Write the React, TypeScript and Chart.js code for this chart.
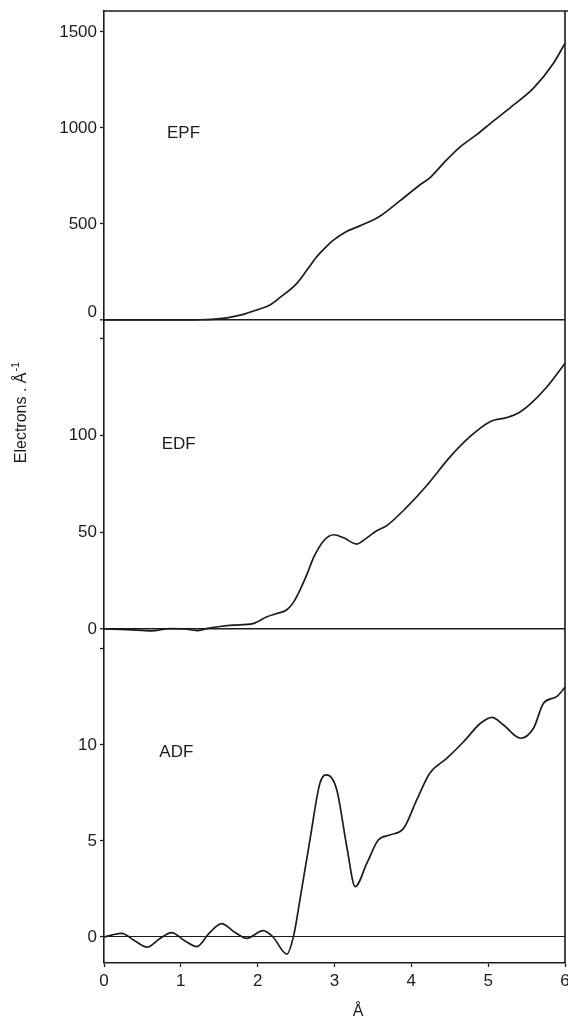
import React, { useEffect, useRef } from 'react';
import { Chart, registerables } from 'chart.js';

Chart.register(...registerables);

// ---- data (x in Å) ----
const xTickValues = [0, 1, 2, 3, 4, 5, 6];

const epfX = [0, 0.5, 1.0, 1.2, 1.4, 1.6, 1.8, 2.0, 2.16, 2.3, 2.51, 2.65, 2.77, 2.9, 2.99, 3.15, 3.33, 3.59, 3.85, 4.11, 4.24, 4.45, 4.64, 4.85, 5.03, 5.3, 5.59, 5.85, 6.0];
const epfY = [0, 0, 0, 1, 3, 11, 28, 54, 78, 120, 191, 265, 330, 385, 417, 460, 490, 540, 620, 703, 740, 830, 903, 965, 1024, 1110, 1207, 1337, 1440];

const edfX = [0, 0.3, 0.62, 0.86, 1.05, 1.21, 1.35, 1.51, 1.68, 1.94, 2.12, 2.25, 2.38, 2.47, 2.55, 2.64, 2.73, 2.86, 2.99, 3.12, 3.29, 3.42, 3.55, 3.68, 3.94, 4.2, 4.51, 4.77, 5.03, 5.24, 5.4, 5.55, 5.76, 6.0];
const edfY = [0, -0.3, -1, 0.2, 0, -0.8, 0.3, 1.3, 2, 2.8, 6.3, 8, 9.9, 14, 20, 28, 37, 45.5, 48.6, 47, 43.8, 47, 50.7, 53.3, 62.8, 74, 89, 99.4, 107, 109, 111.5, 116, 124.6, 137];

const adfX = [0, 0.1, 0.23, 0.4, 0.56, 0.72, 0.88, 1.05, 1.21, 1.37, 1.53, 1.7, 1.86, 2.07, 2.2, 2.38, 2.47, 2.55, 2.68, 2.81, 2.9, 3.03, 3.16, 3.27, 3.42, 3.57, 3.72, 3.9, 4.07, 4.24, 4.46, 4.68, 4.9, 5.05, 5.2, 5.42, 5.59, 5.72, 5.89, 6.0];
const adfY = [0, 0.1, 0.19, -0.2, -0.53, -0.1, 0.23, -0.2, -0.5, 0.2, 0.7, 0.25, -0.07, 0.33, 0, -0.89, 0.1, 1.93, 5.05, 8.0, 8.44, 7.66, 4.7, 2.62, 3.83, 5.05, 5.31, 5.66, 7.14, 8.53, 9.3, 10.17, 11.13, 11.44, 11.04, 10.35, 10.87, 12.17, 12.52, 13.0];

const panelNames = ['EPF', 'EDF', 'ADF'];
const panelLabelX = [0.82, 0.75, 0.72];
const panelLabelY = [974, 95, 9.6];

const epfTickValues = [0, 500, 1000, 1500];
const edfTickValues = [0, 50, 100, 150];
const adfTickValues = [0, 5, 10, 15];
const epfTicksShown = [0, 500, 1000, 1500];
const edfTicksShown = [0, 50, 100];
const adfTicksShown = [0, 5, 10];

const yTitle = 'Electrons . Å';
const yTitleSup = '-1';
const xTitle = 'Å';

const INK = '#1c1c1c';
const FONT = '"Liberation Sans", Arial, Helvetica, sans-serif';

const toPoints = (xs: number[], ys: number[]) => xs.map((x, i) => ({ x, y: ys[i] }));

function yAxis(min: number, max: number, tickValues: number[], weight: number, shown: number[], zeroWidth: number, lineHeight = 1.2, zeroUp = false) {
  return {
    type: 'linear',
    position: 'left',
    stack: 'panels',
    stackWeight: weight,
    min,
    max,
    afterBuildTicks: (s: any) => {
      s.ticks = tickValues.map((v) => ({ value: v }));
    },
    ticks: {
      color: INK,
      padding: 3,
      autoSkip: false,
      font: { family: FONT, size: 17, lineHeight },
      callback: (v: number) => {
        if (!shown.includes(v)) return '';
        if (zeroUp && v === 0) return ['0', ''];
        return String(v);
      },
    },
    grid: {
      drawOnChartArea: true,
      color: (ctx: any) => (ctx.tick && ctx.tick.value === 0 ? INK : 'rgba(0,0,0,0)'),
      lineWidth: (ctx: any) => (ctx.tick && ctx.tick.value === 0 ? zeroWidth : 1),
      tickColor: INK,
      tickLength: 4,
      tickWidth: 1.3,
    },
    border: { display: true, color: INK, width: 1.6 },
    afterFit: (s: any) => {
      s.width = 104;
      s.paddingTop = 0;
      s.paddingBottom = 0;
    },
  };
}

const framePlugin = {
  id: 'frameAndText',
  afterDraw(chart: any) {
    const { ctx, chartArea, scales } = chart;
    ctx.save();
    ctx.strokeStyle = INK;
    ctx.lineWidth = 1.6;
    ctx.beginPath();
    ctx.moveTo(chartArea.left, chartArea.top);
    ctx.lineTo(chart.width, chartArea.top);
    ctx.moveTo(chartArea.right, chartArea.top);
    ctx.lineTo(chartArea.right, chartArea.bottom);
    ctx.stroke();

    ctx.fillStyle = INK;
    ctx.font = `17px ${FONT}`;
    ctx.textAlign = 'left';
    ctx.textBaseline = 'middle';
    const ids = ['yEPF', 'yEDF', 'yADF'];
    panelNames.forEach((name, i) => {
      const px = scales.x.getPixelForValue(panelLabelX[i]);
      const py = scales[ids[i]].getPixelForValue(panelLabelY[i]);
      ctx.fillText(name, px, py);
    });

    // y axis title (rotated)
    ctx.save();
    ctx.translate(22, 413);
    ctx.rotate(-Math.PI / 2);
    ctx.font = `16px ${FONT}`;
    const w1 = ctx.measureText(yTitle).width;
    ctx.font = `11px ${FONT}`;
    const w2 = ctx.measureText(yTitleSup).width;
    const start = -(w1 + w2) / 2;
    ctx.font = `16px ${FONT}`;
    ctx.textAlign = 'left';
    ctx.fillText(yTitle, start, 0);
    ctx.font = `11px ${FONT}`;
    ctx.fillText(yTitleSup, start + w1 + 1, -6);
    ctx.restore();

    // x axis title
    ctx.font = `16px ${FONT}`;
    ctx.textAlign = 'center';
    ctx.fillText(xTitle, 358, 1012);
    ctx.restore();
  },
};

export default function App() {
  const ref = useRef<HTMLCanvasElement>(null);

  useEffect(() => {
    if (!ref.current) return;
    const lineStyle = {
      borderColor: INK,
      borderWidth: 1.7,
      pointRadius: 0,
      cubicInterpolationMode: 'monotone' as const,
      clip: false as any,
      fill: false,
    };
    const chart = new Chart(ref.current, {
      type: 'line',
      data: {
        datasets: [
          { label: 'EPF', data: toPoints(epfX, epfY), yAxisID: 'yEPF', ...lineStyle },
          { label: 'EDF', data: toPoints(edfX, edfY), yAxisID: 'yEDF', ...lineStyle },
          { label: 'ADF', data: toPoints(adfX, adfY), yAxisID: 'yADF', ...lineStyle },
        ],
      },
      options: {
        animation: false,
        responsive: false,
        devicePixelRatio: 1,
        layout: { padding: { top: 11, right: 3, left: 0, bottom: 0 } },
        plugins: { legend: { display: false }, tooltip: { enabled: false } },
        scales: {
          x: {
            type: 'linear',
            min: 0,
            max: 6,
            afterBuildTicks: (s: any) => {
              s.ticks = xTickValues.map((v) => ({ value: v }));
            },
            ticks: { color: INK, padding: 4, autoSkip: false, font: { family: FONT, size: 17 } },
            grid: { drawOnChartArea: false, color: INK, tickLength: 4, tickWidth: 1.3 },
            border: { display: true, color: INK, width: 1.6 },
            afterFit: (s: any) => {
              s.height = 59;
              s.paddingLeft = 0;
              s.paddingRight = 0;
            },
          },
          yADF: yAxis(-1.354, 16.04, adfTickValues, 334, adfTicksShown, 1.1),
          yEDF: yAxis(0, 159.3, edfTickValues, 309, edfTicksShown, 1.5),
          yEPF: yAxis(0, 1609, epfTickValues, 309, epfTicksShown, 1.6, 0.9, true),
        } as any,
      },
      plugins: [framePlugin],
    });
    return () => chart.destroy();
  }, []);

  return (
    <div style={{ position: 'absolute', left: 0, top: 0, width: 568, height: 1022, background: '#fff' }}>
      <canvas ref={ref} width={568} height={1022} style={{ width: 568, height: 1022, display: 'block' }} />
    </div>
  );
}
